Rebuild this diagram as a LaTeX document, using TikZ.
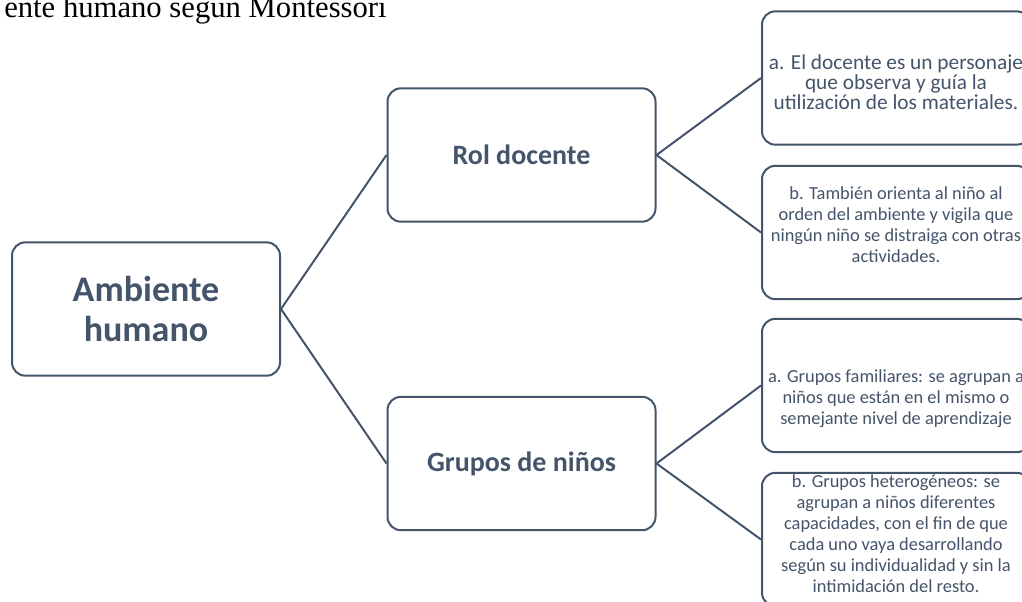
\documentclass[tikz,border=0pt]{standalone}
\usepackage{fontspec}
\setmainfont{Carlito}
\newfontfamily\titlefont{Liberation Serif}
\definecolor{slate}{HTML}{44546A}
\begin{document}
\begin{tikzpicture}[x=0.75pt, y=-0.75pt,
    box/.style={draw=slate, line width=1.5pt, rounded corners=10pt, fill=white,
        minimum width=201pt, minimum height=100pt, align=center, text=slate, inner sep=2pt},
    bigbox/.style={box, font=\fontsize{27}{30}\selectfont\bfseries},
    midbox/.style={box, font=\fontsize{21}{25}\selectfont\bfseries},
    note/.style={align=center, text=slate, inner sep=0pt},
    bignote/.style={note, font=\fontsize{16}{15.2}\selectfont},
    smallnote/.style={note, font=\fontsize{13.8}{15.75}\selectfont},
    link/.style={draw=slate, line width=1.5pt}]
        \useasboundingbox (0,0) rectangle (1022,601);
        % Title
        \node (title) at (4,17) [anchor=base west, inner sep=0pt, font=\titlefont\fontsize{23}{26}\selectfont] {ente humano segun Montessori};
        % Boxes
        \node (amb) at (146, 309) [bigbox] {Ambiente\\humano};
        \node (rol) at (521.5, 155) [midbox] {Rol docente};
        \node (grp) at (521.5, 463.5) [midbox] {Grupos de niños};
        \node (rola) at (896, 78) [box] {};
        \node (rolb) at (896, 232.5) [box] {};
        \node (grpa) at (896, 385.5) [box] {};
        \node (grpb) at (896, 539.5) [box] {};
        % Box texts
        \node (rolatext) at ([yshift=-3pt]rola.center) [bignote] {a. El docente es un personaje\\que observa y guía la\\utilización de los materiales.};
        \node (rolbtext) at ([yshift=6pt]rolb.center) [smallnote] {b. También orienta al niño al\\orden del ambiente y vigila que\\ningún niño se distraiga con otras\\actividades.};
        \node (grpatext) at ([yshift=-10pt]grpa.center) [smallnote] {a. Grupos familiares: se agrupan a\\niños que están en el mismo o\\semejante nivel de aprendizaje};
        \node (grpbtext) at ([yshift=4pt]grpb.center) [smallnote] {b. Grupos heterogéneos: se\\agrupan a niños diferentes\\capacidades, con el fin de que\\cada uno vaya desarrollando\\según su individualidad y sin la\\intimidación del resto.};
        % Connectors
        \draw[link] (amb.east) -- (rol.west);
        \draw[link] (amb.east) -- (grp.west);
        \draw[link] (rol.east) -- (rola.west);
        \draw[link] (rol.east) -- (rolb.west);
        \draw[link] (grp.east) -- (grpa.west);
        \draw[link] (grp.east) -- (grpb.west);
\end{tikzpicture}
\end{document}
